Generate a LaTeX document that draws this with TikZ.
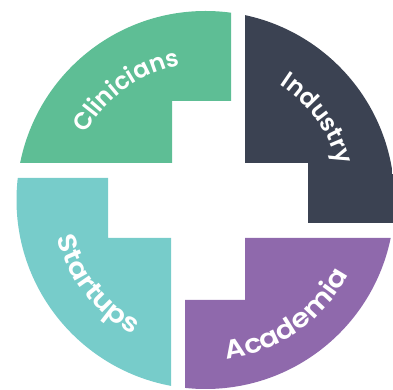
\documentclass[tikz,border=0pt]{standalone}
\usepackage{fontspec}
\setmainfont{Poppins SemiBold}
\newfontfamily\wide{Poppins SemiBold}[FakeStretch=1.12]
\usetikzlibrary{decorations.text}
\definecolor{cgreen}{HTML}{5EBE95}
\definecolor{cdark}{HTML}{3B4252}
\definecolor{cteal}{HTML}{77CCCA}
\definecolor{cpurple}{HTML}{8F69AC}
\tikzset{
  lbl/.style={decorate, decoration={text along path, text align=center,
     text={|\fontsize{24}{24}\selectfont\color{white}|#1}}},
  lblb/.style={decorate, decoration={text along path, text align=center,
     text={|\wide\fontsize{26}{26}\selectfont\color{white}|#1}}}
}
\begin{document}
\begin{tikzpicture}[x=1pt,y=1pt]
\useasboundingbox (0,0) rectangle (393,390);
\coordinate (C) at (205.5,190);
\begin{scope}
\clip (C) circle[radius=189];
\fill[cgreen] (0,390) -- (231,390) -- (231,289) -- (172,289) -- (172,227) -- (0,227) -- cycle;
\fill[cdark] (245,390) -- (393,390) -- (393,167) -- (308,167) -- (308,227) -- (245,227) -- cycle;
\fill[cpurple] (245,152) -- (393,152) -- (393,0) -- (185,0) -- (185,90) -- (245,90) -- cycle;
\fill[cteal] (0,212) -- (108,212) -- (108,152) -- (171,152) -- (171,0) -- (0,0) -- cycle;
\end{scope}
\path[lbl=Clinicians] (C) ++(166:137) arc[start angle=166, end angle=86, radius=137];
\path[lbl=Industry] (C) ++(76:137) arc[start angle=76, end angle=-4, radius=137];
\path[lblb=Startups] (C) ++(175:153) arc[start angle=175, end angle=261, radius=153];
\path[lblb=Academia] (C) ++(262:161) arc[start angle=262, end angle=348, radius=161];
\end{tikzpicture}
\end{document}
